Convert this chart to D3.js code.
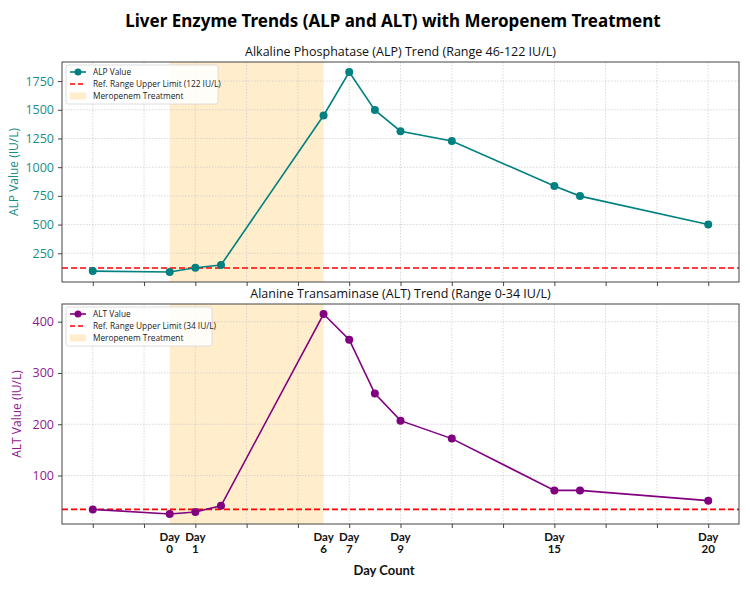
<!DOCTYPE html>
<html>
<head>
<meta charset="utf-8">
<script src="https://cdn.jsdelivr.net/npm/d3@7"></script>
<style>
  body { margin: 0; background: #fff; }
  text { font-family: "Open Sans", "Noto Sans", sans-serif; }
</style>
</head>
<body>
<svg width="750" height="592"></svg>
<script>
// sample positions along the time axis (one unit = one day, first sample = 0)
var xPos = [0, 3, 4, 5, 9, 10, 11, 12, 14, 18, 19, 24];
var alpValues = [95, 87, 124, 148, 1450, 1829, 1497, 1313, 1228, 836, 748, 500];
var altValues = [34, 25, 29, 41, 415, 365, 260, 207, 172, 71, 71, 51];

// "Day N" labels drawn under the lower panel
var dayLabelPos = [3, 4, 9, 10, 12, 18, 24];
var dayLabelText = ["Day 0", "Day 1", "Day 6", "Day 7", "Day 9", "Day 15", "Day 20"];

var treatment = [3, 9];      // shaded span
var xTicks = d3.range(0, 25, 2);

var svg = d3.select("svg");

var left = 62, right = 739;
var xExt = d3.extent(xPos), xPad = (xExt[1] - xExt[0]) * 0.05;
var x = d3.scaleLinear()
    .domain([xExt[0] - xPad, xExt[1] + xPad])
    .range([left, right]);

svg.append("text")
    .attr("x", 393).attr("y", 27)
    .attr("text-anchor", "middle")
    .style("font-size", "17px").style("font-weight", "bold")
    .style("font-family", "'Noto Sans', sans-serif")
    .text("Liver Enzyme Trends (ALP and ALT) with Meropenem Treatment");

function panel(cfg) {
  var top = cfg.top, bottom = cfg.bottom;
  var g = svg.append("g");
  var ext = d3.extent(cfg.values), pad = (ext[1] - ext[0]) * 0.05;
  var y = d3.scaleLinear()
      .domain([ext[0] - pad, ext[1] + pad])
      .range([bottom, top]);

  // subplot title
  g.append("text")
      .attr("x", (left + right) / 2).attr("y", top - 6)
      .attr("text-anchor", "middle")
      .style("font-size", "12.5px")
      .style("fill", "#111")
      .text(cfg.title);

  // shaded treatment window
  g.append("rect")
      .attr("x", x(treatment[0])).attr("y", top)
      .attr("width", x(treatment[1]) - x(treatment[0]))
      .attr("height", bottom - top)
      .attr("fill", "#ffedcc");

  // grid
  g.selectAll(".vg").data(xTicks).enter().append("line")
      .attr("x1", d => x(d)).attr("x2", d => x(d))
      .attr("y1", top).attr("y2", bottom)
      .attr("stroke", "#c8c8c8").attr("stroke-width", 0.7)
      .attr("stroke-dasharray", "1.5,1.5");
  g.selectAll(".hg").data(cfg.yTicks).enter().append("line")
      .attr("x1", left).attr("x2", right)
      .attr("y1", d => y(d)).attr("y2", d => y(d))
      .attr("stroke", "#c8c8c8").attr("stroke-width", 0.7)
      .attr("stroke-dasharray", "1.5,1.5");

  // reference line
  g.append("line")
      .attr("x1", left).attr("x2", right)
      .attr("y1", y(cfg.refLimit)).attr("y2", y(cfg.refLimit))
      .attr("stroke", "#ff0000").attr("stroke-width", 1.6)
      .attr("stroke-dasharray", "6,3");

  // series
  var line = d3.line().x(d => x(d[0])).y(d => y(d[1]));
  var pts = xPos.map((d, i) => [d, cfg.values[i]]);
  g.append("path")
      .datum(pts)
      .attr("d", line)
      .attr("fill", "none")
      .attr("stroke", cfg.color).attr("stroke-width", 1.6);
  g.selectAll(".pt").data(pts).enter().append("circle")
      .attr("cx", d => x(d[0])).attr("cy", d => y(d[1]))
      .attr("r", 4)
      .attr("fill", cfg.color);

  // frame
  g.append("rect")
      .attr("x", left).attr("y", top)
      .attr("width", right - left).attr("height", bottom - top)
      .attr("fill", "none").attr("stroke", "#444").attr("stroke-width", 1);

  // axes
  var ya = g.append("g")
      .attr("transform", "translate(" + left + ",0)")
      .call(d3.axisLeft(y).tickValues(cfg.yTicks).tickFormat(d3.format("d"))
        .tickSize(4).tickPadding(4));
  ya.select(".domain").remove();
  ya.selectAll("line").attr("stroke", "#444");
  ya.selectAll("text")
      .style("font-size", "12.5px")
      .style("font-family", "'Open Sans', sans-serif")
      .attr("fill", cfg.labelColor);

  var xa = g.append("g")
      .attr("transform", "translate(0," + bottom + ")")
      .call(d3.axisBottom(x).tickValues(xTicks).tickSize(4).tickFormat(""));
  xa.select(".domain").remove();
  xa.selectAll("line").attr("stroke", "#444");

  // y label
  g.append("text")
      .attr("transform", "translate(" + cfg.labelX + "," + (top + bottom) / 2 + ") rotate(-90)")
      .attr("text-anchor", "middle")
      .style("font-size", "12px")
      .attr("fill", cfg.labelColor)
      .text(cfg.yLabel);

  // legend
  var lg = g.append("g").attr("transform", "translate(66," + (top + 3) + ")");
  lg.append("rect")
      .attr("width", cfg.legendW).attr("height", 39)
      .attr("rx", 2)
      .attr("fill", "#fff").attr("fill-opacity", 0.85)
      .attr("stroke", "#d6d6d6").attr("stroke-width", 0.8);
  var rows = [cfg.name, "Ref. Range Upper Limit (" + cfg.refLimit + " IU/L)", "Meropenem Treatment"];
  rows.forEach(function(t, i) {
    var yy = 7 + i * 12;
    if (i === 0) {
      lg.append("line").attr("x1", 4).attr("x2", 20).attr("y1", yy).attr("y2", yy)
          .attr("stroke", cfg.color).attr("stroke-width", 1.6);
      lg.append("circle").attr("cx", 12).attr("cy", yy).attr("r", 3.5).attr("fill", cfg.color);
    } else if (i === 1) {
      lg.append("line").attr("x1", 4).attr("x2", 20).attr("y1", yy).attr("y2", yy)
          .attr("stroke", "#ff0000").attr("stroke-width", 1.6).attr("stroke-dasharray", "5,3");
    } else {
      lg.append("rect").attr("x", 4).attr("y", yy - 3.5).attr("width", 16).attr("height", 7)
          .attr("fill", "#ffedcc");
    }
    lg.append("text")
        .attr("x", 27).attr("y", yy + 3)
        .style("font-size", "8.3px")
        .attr("fill", "#222")
        .text(t);
  });
  return y;
}

panel({
  top: 62, bottom: 282,
  values: alpValues, yTicks: [250, 500, 750, 1000, 1250, 1500, 1750],
  refLimit: 122, color: "#008080", labelColor: "#1a8d89", name: "ALP Value",
  title: "Alkaline Phosphatase (ALP) Trend (Range 46-122 IU/L)",
  yLabel: "ALP Value (IU/L)", labelX: 18, legendW: 152
});

panel({
  top: 304, bottom: 524,
  values: altValues, yTicks: [100, 200, 300, 400],
  refLimit: 34, color: "#800080", labelColor: "#8e1a8e", name: "ALT Value",
  title: "Alanine Transaminase (ALT) Trend (Range 0-34 IU/L)",
  yLabel: "ALT Value (IU/L)", labelX: 21, legendW: 146
});

// day labels under bottom axis
var dl = svg.append("g").selectAll("text")
    .data(dayLabelPos.map((d, i) => [d, dayLabelText[i]]))
    .enter().append("text")
    .attr("text-anchor", "middle")
    .style("font-size", "11.5px").style("font-weight", "bold")
    .style("font-family", "Lato, sans-serif")
    .attr("fill", "#111");
dl.append("tspan").attr("x", d => x(d[0])).attr("y", 541).text(d => d[1].split(" ")[0]);
dl.append("tspan").attr("x", d => x(d[0])).attr("y", 553).text(d => d[1].split(" ")[1]);

svg.append("text")
    .attr("x", 384).attr("y", 575)
    .attr("text-anchor", "middle")
    .style("font-size", "13px").style("font-weight", "bold")
    .style("font-family", "Lato, sans-serif")
    .attr("fill", "#111")
    .text("Day Count");
</script>
</body>
</html>
